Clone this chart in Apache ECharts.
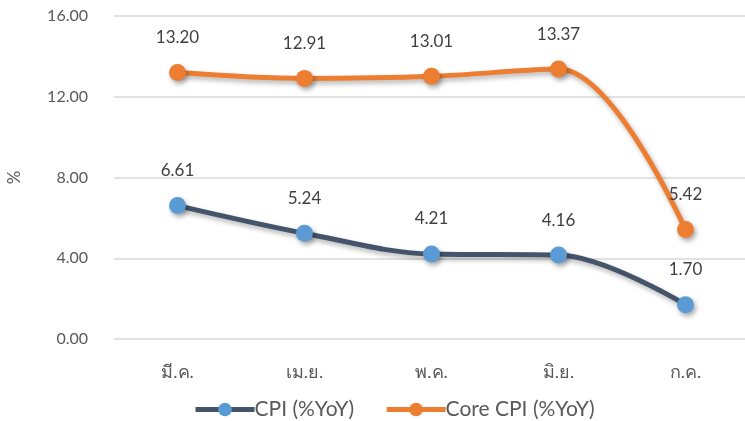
<!DOCTYPE html>
<html>
<head>
<meta charset="utf-8">
<script src="https://cdn.jsdelivr.net/npm/echarts@6/dist/echarts.min.js"></script>
<style>
	html, body { margin: 0; padding: 0; background: #fff; }
	#chart { width: 745px; height: 421px; }
</style>
</head>
<body>
<div id="chart"></div>
<script>
// ข้อมูล
const months = ['มี.ค.', 'เม.ย.', 'พ.ค.', 'มิ.ย.', 'ก.ค.']
const cpi = [6.61, 5.24, 4.21, 4.16, 1.70]
const coreCpi = [13.20, 12.91, 13.01, 13.37, 5.42]
const yTicks = [0, 4, 8, 12, 16]

const fontFam = 'Lato, "Noto Sans", "DejaVu Sans", sans-serif'
const txt = '#595959'

let myChart = echarts.init(document.getElementById('chart'))

function lineSeries(name, data, lineColor, dotColor) {
	return {
		name: name,
		type: 'line',
		data: data,
		smooth: 0.35,
		symbol: 'circle',
		symbolSize: 17,
		itemStyle: {
			color: dotColor,
			shadowColor: 'rgba(0,0,0,0.35)',
			shadowBlur: 5,
			shadowOffsetX: 2,
			shadowOffsetY: 3
		},
		lineStyle: {
			color: lineColor,
			width: 5,
			shadowColor: 'rgba(0,0,0,0.3)',
			shadowBlur: 5,
			shadowOffsetX: 2,
			shadowOffsetY: 3
		},
		label: {
			show: true,
			position: 'top',
			distance: 18,
			fontSize: 17,
			color: '#404040',
			fontFamily: fontFam,
			formatter: p => p.value.toFixed(2)
		},
		emphasis: { disabled: true }
	}
}

let option = {
	animation: false,
	grid: {
		left: 114,
		top: 16,
		width: 635,
		height: 323,
		outerBoundsMode: 'none',
		containLabel: false
	},
	legend: {
		top: 394,
		left: 188,
		itemWidth: 59,
		itemHeight: 17,
		itemGap: 30,
		lineStyle: { width: 5, shadowBlur: 0, shadowOffsetX: 0, shadowOffsetY: 0 },
		itemStyle: { shadowBlur: 0, shadowOffsetX: 0, shadowOffsetY: 0 },
		textStyle: { fontSize: 21, color: txt, fontFamily: fontFam, padding: [0, 0, 0, -5] },
		data: ['CPI (%YoY)', 'Core CPI (%YoY)']
	},
	xAxis: {
		type: 'category',
		data: months,
		axisLine: { show: false },
		axisTick: { show: false },
		axisLabel: { fontSize: 18, color: txt, margin: 24, fontFamily: fontFam }
	},
	yAxis: {
		type: 'value',
		min: yTicks[0],
		max: yTicks[yTicks.length - 1],
		interval: 4,
		name: '%',
		nameLocation: 'middle',
		nameGap: 91,
		nameRotate: 90,
		nameTextStyle: { fontSize: 17, color: txt, fontFamily: fontFam },
		axisLabel: {
			fontSize: 16, color: txt, margin: 26, fontFamily: fontFam,
			formatter: v => v.toFixed(2)
		},
		splitLine: { lineStyle: { color: '#d9d9d9', width: 1.5 } }
	},
	series: [
		lineSeries('CPI (%YoY)', cpi, '#44546A', '#5B9BD5'),
		lineSeries('Core CPI (%YoY)', coreCpi, '#ED7D31', '#ED7D31')
	]
}

myChart.setOption(option)
</script>
</body>
</html>
